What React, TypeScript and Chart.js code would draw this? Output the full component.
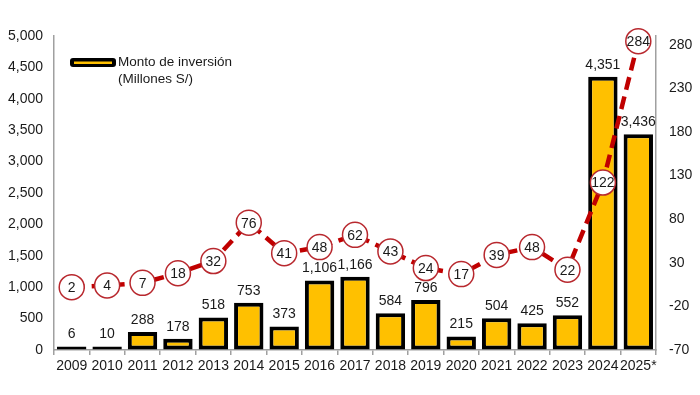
import React, { useEffect, useRef } from "react";
import { Chart, registerables } from "chart.js";

Chart.register(...registerables);

const categories = ["2009", "2010", "2011", "2012", "2013", "2014", "2015", "2016", "2017", "2018", "2019", "2020", "2021", "2022", "2023", "2024", "2025*"];
const investment = [6, 10, 288, 178, 518, 753, 373, 1106, 1166, 584, 796, 215, 504, 425, 552, 4351, 3436];
const projectCount = [2, 4, 7, 18, 32, 76, 41, 48, 62, 43, 24, 17, 39, 48, 22, 122, 284];
const rightTickValues = [-70, -20, 30, 80, 130, 180, 230, 280];
const legendLines = ["Monto de inversión", "(Millones S/)"];

const FONT = '"Liberation Sans", Arial, sans-serif';
const TEXT = "#1a1a1a";
const AXIS = "#a0a0a0";

const labelsPlugin = {
  id: "valueLabels",
  afterDatasetsDraw(chart: any) {
    const ctx = chart.ctx;
    ctx.save();
    ctx.font = `14px ${FONT}`;
    ctx.textAlign = "center";
    const barMeta = chart.getDatasetMeta(0);
    ctx.fillStyle = TEXT;
    ctx.textBaseline = "bottom";
    barMeta.data.forEach((el: any, i: number) => {
      ctx.fillText(investment[i].toLocaleString("en-US"), el.x, el.y - 5);
    });
    const lineMeta = chart.getDatasetMeta(1);
    lineMeta.data.forEach((pt: any, i: number) => {
      const cx = pt.x;
      const cy = pt.y;
      ctx.beginPath();
      ctx.arc(cx, cy, 12.5, 0, Math.PI * 2);
      ctx.fillStyle = "#ffffff";
      ctx.fill();
      ctx.lineWidth = 1.5;
      ctx.strokeStyle = "#b8282e";
      ctx.stroke();
      ctx.fillStyle = TEXT;
      ctx.textBaseline = "middle";
      ctx.fillText(String(projectCount[i]), cx, cy + 1);
    });
    ctx.restore();
  },
  afterDraw(chart: any) {
    const ctx = chart.ctx;
    ctx.save();
    // legend swatch
    ctx.fillStyle = "#000";
    ctx.beginPath();
    ctx.roundRect(70, 58, 46, 9, 3);
    ctx.fill();
    ctx.fillStyle = "#FFC000";
    ctx.fillRect(74, 61.5, 38, 2.5);
    ctx.font = `13.5px ${FONT}`;
    ctx.fillStyle = TEXT;
    ctx.textAlign = "left";
    ctx.textBaseline = "middle";
    ctx.fillText(legendLines[0], 118, 62);
    ctx.fillText(legendLines[1], 118, 79);
    ctx.restore();
  },
};

export default function App() {
  const ref = useRef<HTMLCanvasElement>(null);
  useEffect(() => {
    document.body.style.margin = "0";
    const chart = new Chart(ref.current!, {
      type: "bar",
      data: {
        labels: categories,
        datasets: [
          {
            type: "bar",
            label: "Monto de inversión (Millones S/)",
            data: investment,
            backgroundColor: "#FFC000",
            borderColor: "#000000",
            borderWidth: 4,
            borderSkipped: false,
            minBarLength: 3.5,
            barPercentage: 0.83,
            categoryPercentage: 1,
            yAxisID: "y",
            order: 2,
          },
          {
            type: "line",
            label: "Proyectos",
            data: projectCount,
            borderColor: "#C00000",
            borderWidth: 4.5,
            borderDash: [13, 7],
            pointRadius: 0,
            tension: 0,
            fill: false,
            yAxisID: "y1",
            order: 1,
          },
        ],
      },
      options: {
        responsive: false,
        animation: false,
        layout: { padding: { top: 36, left: 0, right: 0, bottom: 0 } },
        plugins: { legend: { display: false }, tooltip: { enabled: false } },
        scales: {
          x: {
            offset: true,
            grid: { offset: true, drawOnChartArea: false, tickLength: 5, color: AXIS, lineWidth: 1.5 },
            border: { color: AXIS, width: 1.5 },
            ticks: { color: TEXT, font: { size: 14, family: FONT }, padding: 3, maxRotation: 0, autoSkip: false },
            afterFit(scale: any) { scale.height = 45; },
          },
          y: {
            position: "left",
            min: 0,
            max: 5000,
            grid: { drawOnChartArea: false, drawTicks: false },
            border: { color: AXIS, width: 1.5 },
            ticks: {
              stepSize: 500,
              color: TEXT,
              font: { size: 14, family: FONT },
              padding: 11,
              callback: (v: any) => Number(v).toLocaleString("en-US"),
            },
            afterFit(scale: any) { scale.width = 54; },
          },
          y1: {
            position: "right",
            min: -70,
            max: 290,
            grid: { drawOnChartArea: false, drawTicks: false },
            border: { color: AXIS, width: 1.5 },
            ticks: { color: TEXT, font: { size: 14, family: FONT }, padding: 13 },
            afterBuildTicks(scale: any) { scale.ticks = rightTickValues.map((v) => ({ value: v })); },
            afterFit(scale: any) { scale.width = 44; },
          },
        },
      },
      plugins: [labelsPlugin],
    } as any);
    return () => chart.destroy();
  }, []);
  return (
    <div style={{ width: 700, height: 395 }}>
      <canvas ref={ref} width={700} height={395} />
    </div>
  );
}
